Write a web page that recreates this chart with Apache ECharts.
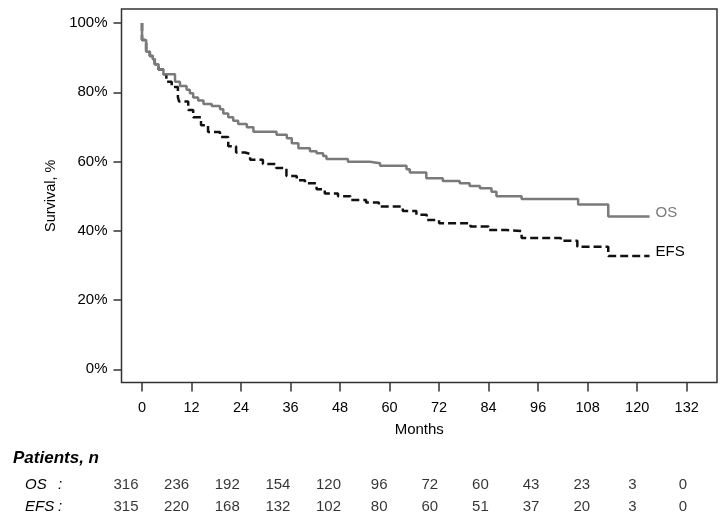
<!DOCTYPE html>
<html><head><meta charset="utf-8">
<script src="https://cdn.jsdelivr.net/npm/echarts@6/dist/echarts.min.js"></script>
<style>html,body{margin:0;padding:0;background:#fff}#c{width:728px;height:523px}</style>
</head><body><div id="c"></div>
<script>
// Kaplan-Meier steps: [month, survival % after the step]
const osCurve = [[0,100],[0,95.1],[1,91.7],[1.9,90.5],[2.6,89.5],[3.1,88.1],[4,86.6],[5.2,85.2],[8,83.0],[9.2,81.8],[10.8,80.7],[11.6,79.7],[12.4,78.5],[13.6,77.6],[14.9,76.6],[16.9,76.0],[18.9,75.1],[19.7,73.9],[20.9,72.8],[22.1,71.8],[23.3,70.8],[25.4,69.9],[27,68.6],[32.6,67.7],[35.1,66.7],[36.3,65.3],[37.9,63.8],[40.7,63.0],[42.3,62.4],[43.9,61.6],[44.7,60.7],[49.9,59.9],[55.2,59.5],[57.7,58.8],[64.1,57.8],[64.9,56.8],[68.9,55.2],[72.9,54.4],[77,53.7],[79.4,52.9],[81.9,52.3],[84.7,51.3],[85.9,50.0],[92,49.2],[105.7,47.6],[113,44.1],[123,44.1]];
const efsCurve = [[0,100],[0,95.1],[1,91.7],[1.9,90.5],[2.6,89.5],[3.1,88.1],[4,86.6],[5.2,85.2],[5.9,83.0],[7.2,81.5],[8.7,78.5],[9.0,77.3],[11.2,74.9],[12.4,72.8],[14.3,70.5],[16,68.5],[18.9,67.1],[20.9,64.4],[22.8,62.6],[25,62.2],[26.2,60.5],[29.3,59.3],[32.5,58.1],[35,55.8],[37.5,54.6],[39.5,53.7],[42.3,52.0],[44.3,50.8],[47.5,50.0],[50.5,48.9],[54.3,48.2],[57.4,47.0],[63.2,45.7],[66.5,44.6],[69,43.1],[72,42.2],[79.6,41.2],[84,40.2],[88.3,39.9],[92,37.9],[101.5,37.1],[105.5,35.4],[113,32.7],[123,32.7]];
const xTicks = [0,12,24,36,48,60,72,84,96,108,120,132];
const yTicks = [0,20,40,60,80,100];
const riskRows = ['OS','EFS'];
const osAtRisk = [316,236,192,154,120,96,72,60,43,23,3,0];
const efsAtRisk = [315,220,168,132,102,80,60,51,37,20,3,0];

const font = '"Liberation Sans", Arial, sans-serif';
const dark = '#333';

const riskData = [];
xTicks.forEach((m,i)=>{ riskData.push([m, riskRows[0], osAtRisk[i]]); riskData.push([m, riskRows[1], efsAtRisk[i]]); });

const chart = echarts.init(document.getElementById('c'), null, {renderer:'canvas'});
chart.setOption({
  animation:false,
  backgroundColor:'#fff',
  title:{text:'Patients, n', left:8, top:445, textStyle:{fontFamily:font, fontSize:17, fontWeight:'bold', fontStyle:'italic', color:'#000'}},
  grid:[
    {left:121.5, right:11, top:9, bottom:140.5, show:true, borderColor:dark, borderWidth:1.5, containLabel:false},
    {left:126, right:45, top:474, height:44, containLabel:false}
  ],
  xAxis:[
    {gridIndex:0, type:'value', min:-4.97, max:139.35, name:'Months', nameLocation:'middle', nameGap:40,
     nameTextStyle:{fontFamily:font, fontSize:15, color:'#000'},
     axisLine:{show:false, onZero:false}, splitLine:{show:false},
     axisTick:{show:true, customValues:xTicks, length:9, lineStyle:{color:dark, width:1.5}},
     axisLabel:{show:true, customValues:xTicks, margin:18, fontFamily:font, fontSize:14.5, color:'#000'}},
    {gridIndex:1, type:'value', min:0, max:132, show:false}
  ],
  yAxis:[
    {gridIndex:0, type:'value', min:-3.81, max:104.04, name:'Survival, %', nameLocation:'middle', nameGap:52,
     nameTextStyle:{fontFamily:font, fontSize:14.5, color:'#000'},
     axisLine:{show:false, onZero:false}, splitLine:{show:false},
     axisTick:{show:true, customValues:yTicks, length:8, lineStyle:{color:dark, width:1.5}},
     axisLabel:{show:true, customValues:yTicks, margin:14, formatter:v=>v+'%', fontFamily:font, fontSize:15, color:'#000'}},
    {gridIndex:1, type:'category', data:riskRows, inverse:true,
     axisLine:{show:false}, axisTick:{show:false}, splitLine:{show:false},
     axisLabel:{show:true, align:'left', margin:101, formatter:v=>'{a|'+v+'}{b|:}',
       rich:{a:{width:33, fontFamily:font, fontSize:15, fontStyle:'italic', color:'#000'}, b:{fontFamily:font, fontSize:15, fontStyle:'italic', color:'#000'}}}}
  ],
  series:[
    {name:'EFS', type:'line', xAxisIndex:0, yAxisIndex:0, step:'end', data:efsCurve, showSymbol:false, symbol:'none', z:2,
     lineStyle:{color:'#111', width:2.5, type:[8,4]},
     endLabel:{show:true, formatter:'EFS', distance:6, offset:[0,-4], fontFamily:font, fontSize:15, color:'#000'}},
    {name:'OS', type:'line', xAxisIndex:0, yAxisIndex:0, step:'end', data:osCurve, showSymbol:false, symbol:'none', z:3,
     lineStyle:{color:'#7a7a7a', width:2.5},
     endLabel:{show:true, formatter:'OS', distance:6, offset:[0,-4], fontFamily:font, fontSize:15, color:'#7a7a7a'}},
    {name:'risk', type:'scatter', xAxisIndex:1, yAxisIndex:1, symbolSize:0, data:riskData,
     label:{show:true, position:'inside', formatter:p=>String(p.value[2]), fontFamily:font, fontSize:15, color:'#000'}}
  ]
});
</script></body></html>
